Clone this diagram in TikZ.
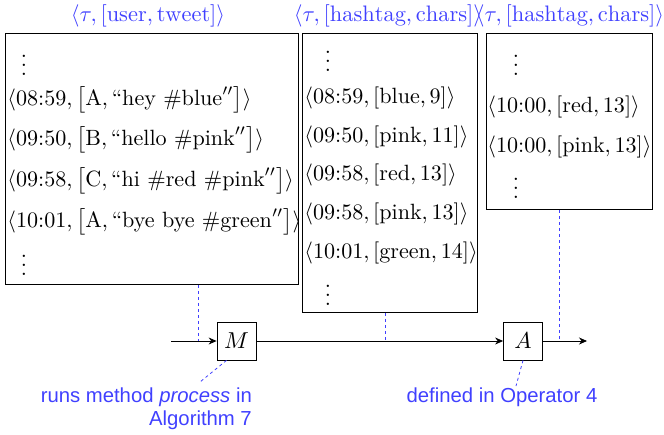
\documentclass[tikz,border=0pt]{standalone}
\usepackage{amsmath}
\usepackage{fontspec}
\newfontfamily\arialfont{Liberation Sans}
\usetikzlibrary{arrows.meta}
\definecolor{lblue}{RGB}{64,64,255}
\tikzset{
  mathtxt/.style={inner sep=0pt, scale=2.21},
  rowtxt/.style={mathtxt, anchor=west},
  streambox/.style={draw, line width=0.8pt, anchor=north west, inner sep=0pt},
  opbox/.style={draw, line width=0.8pt, minimum width=39pt, minimum height=38pt, inner sep=0pt},
  hdr/.style={inner sep=0pt, scale=2.24, text=lblue},
  bluedash/.style={draw=lblue, line width=0.8pt, dash pattern=on 3pt off 3pt},
  flow/.style={line width=0.8pt, -{Stealth[length=8pt,width=7pt]}},
  note/.style={text=lblue, font=\arialfont\fontsize{20.3}{23}\selectfont, inner sep=0pt}
}
\begin{document}
\begin{tikzpicture}[x=1pt,y=-1pt]
\useasboundingbox (0,0) rectangle (664,434);
% boxes
\node[streambox, minimum width=293pt, minimum height=251pt] (b1) at (5,33) {};
\node[streambox, minimum width=175pt, minimum height=279pt] (b2) at (302,33) {};
\node[streambox, minimum width=166pt, minimum height=176pt] (b3) at (486,33) {};
% headers
\node[hdr] (h1) at (148,16) {$\langle \tau, [\mathrm{user}, \mathrm{tweet}]\rangle$};
\node[hdr] (h2) at (388,16) {$\langle \tau, [\mathrm{hashtag}, \mathrm{chars}]\rangle$};
\node[hdr] (h3) at (570,16) {$\langle \tau, [\mathrm{hashtag}, \mathrm{chars}]\rangle$};
% box 1 rows
\node[mathtxt] (d1a) at (24,59) {$\vdots$};
\node[rowtxt] (r11) at (7,100) {$\langle 08{:}59, \left[\mathrm{A}, \text{``hey \#blue}''\right]\rangle$};
\node[rowtxt] (r12) at (7,140) {$\langle 09{:}50, \left[\mathrm{B}, \text{``hello \#pink}''\right]\rangle$};
\node[rowtxt] (r13) at (7,181) {$\langle 09{:}58, \left[\mathrm{C}, \text{``hi \#red \#pink}''\right]\rangle$};
\node[rowtxt] (r14) at (7,222) {$\langle 10{:}01, \left[\mathrm{A}, \text{``bye bye \#green}''\right]\rangle$};
\node[mathtxt] (d1b) at (24,259) {$\vdots$};
% box 2 rows
\node[mathtxt] (d2a) at (328,55) {$\vdots$};
\node[rowtxt] (r21) at (304,98) {$\langle 08{:}59, [\mathrm{blue}, 9]\rangle$};
\node[rowtxt] (r22) at (304,137) {$\langle 09{:}50, [\mathrm{pink}, 11]\rangle$};
\node[rowtxt] (r23) at (304,175) {$\langle 09{:}58, [\mathrm{red}, 13]\rangle$};
\node[rowtxt] (r24) at (304,214) {$\langle 09{:}58, [\mathrm{pink}, 13]\rangle$};
\node[rowtxt] (r25) at (304,253) {$\langle 10{:}01, [\mathrm{green}, 14]\rangle$};
\node[mathtxt] (d2b) at (328,289) {$\vdots$};
% box 3 rows
\node[mathtxt] (d3a) at (516,59) {$\vdots$};
\node[rowtxt] (r31) at (487,107) {$\langle 10{:}00, [\mathrm{red}, 13]\rangle$};
\node[rowtxt] (r32) at (487,147) {$\langle 10{:}00, [\mathrm{pink}, 13]\rangle$};
\node[mathtxt] (d3b) at (516,182) {$\vdots$};
% operators
\node[opbox] (M) at (236.5,341) {\scalebox{2.3}{$M$}};
\node[opbox] (A) at (523,341) {\scalebox{2.3}{$A$}};
\coordinate (in) at (171,341);
\coordinate (out) at (587,341);
\draw[flow] (in) -- (M);
\draw[flow] (M) -- (A);
\draw[flow] (A) -- (out);
% stream dashed links
\draw[bluedash] (b1.south -| 198,0) -- (198,341);
\draw[bluedash] (b2.south -| 385,0) -- (385,341);
\draw[bluedash] (b3.south -| 559,0) -- (559,341);
% notes
\node[note, anchor=base east] (n1a) at (252,402) {runs method \textit{process} in};
\node[note, anchor=base east] (n1b) at (252,425) {Algorithm 7};
\node[note, anchor=base] (n2) at (502,402) {defined in Operator 4};
\coordinate (n1t) at (200,382);
\coordinate (n2t) at (516,386);
\draw[bluedash] ([xshift=-10pt]M.south) -- (n1t);
\draw[bluedash] (A.south) -- (n2t);
\end{tikzpicture}
\end{document}
